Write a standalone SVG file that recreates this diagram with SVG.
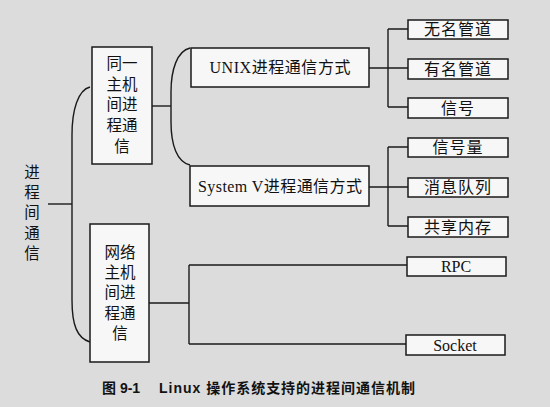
<svg xmlns="http://www.w3.org/2000/svg" width="550" height="407" viewBox="0 0 550 407">
<style>
.box{fill:#f7f7f7;stroke:#1a1a1a;stroke-width:1.5}
.ln{fill:none;stroke:#1a1a1a;stroke-width:1.4}
.t{font-family:"Liberation Serif","Noto Sans CJK SC",serif;font-size:16px;fill:#111;text-anchor:middle}
.v{font-family:"Noto Sans CJK SC",sans-serif;font-size:15.5px;fill:#111;text-anchor:middle}
.cap{font-family:"Liberation Sans","Noto Sans CJK SC",sans-serif;font-size:14px;font-weight:bold;fill:#111}
</style>
<rect width="550" height="407" fill="#dcdcdc"/>
<g id="connectors">
<path class="ln" d="M48 204 H72"/>
<path class="ln" d="M90 87 C78 90 72 110 72 135 L72 300 C72 325 77 338 90 342"/>
<path class="ln" d="M152 106 H171"/>
<path class="ln" d="M190 48 C177 51 171 70 171 92 L171 122 C171 145 177 162 190 165"/>
<path class="ln" d="M369 68 H388 M388 29 V107 M388 29 H408 M388 68 H408 M388 107 H408"/>
<path class="ln" d="M369 187 H388 M388 147 V226 M388 147 H408 M388 187 H408 M388 226 H408"/>
<path class="ln" d="M149 303 H189 M189 265 V344 M189 265 H407 M189 344 H406"/>
</g>
<g id="root"><text class="v" font-size="16"><tspan x="32" y="178">进</tspan><tspan x="32" y="198">程</tspan><tspan x="32" y="218">间</tspan><tspan x="32" y="239">通</tspan><tspan x="32" y="259">信</tspan></text></g>
<g id="same-host"><rect class="box" x="92" y="47" width="60" height="117"/>
<text class="v"><tspan x="122" y="69">同一</tspan><tspan x="122" y="90">主机</tspan><tspan x="122" y="110">间进</tspan><tspan x="122" y="131">程通</tspan><tspan x="122" y="152">信</tspan></text></g>
<g id="network-host"><rect class="box" x="90" y="224" width="59" height="138"/>
<text class="v"><tspan x="120" y="258">网络</tspan><tspan x="120" y="278">主机</tspan><tspan x="120" y="298">间进</tspan><tspan x="120" y="319">程通</tspan><tspan x="120" y="339">信</tspan></text></g>
<g id="unix"><rect class="box" x="191" y="48" width="178" height="39"/><text class="t" x="280" y="73" textLength="141">UNIX进程通信方式</text></g>
<g id="systemv"><rect class="box" x="190" y="166" width="179" height="40"/><text class="t" x="280" y="192" textLength="164">System V进程通信方式</text></g>
<g id="unnamed-pipe"><rect class="box" x="408" y="20" width="100" height="19"/><text class="t" x="458" y="35" letter-spacing="1">无名管道</text></g>
<g id="named-pipe"><rect class="box" x="408" y="59" width="100" height="20"/><text class="t" x="458" y="75" letter-spacing="1">有名管道</text></g>
<g id="signal"><rect class="box" x="408" y="98" width="100" height="20"/><text class="t" x="458" y="114" letter-spacing="1">信号</text></g>
<g id="semaphore"><rect class="box" x="408" y="138" width="100" height="19"/><text class="t" x="458" y="153" letter-spacing="1">信号量</text></g>
<g id="msg-queue"><rect class="box" x="408" y="178" width="100" height="19"/><text class="t" x="458" y="193" letter-spacing="1">消息队列</text></g>
<g id="shm"><rect class="box" x="408" y="217" width="100" height="20"/><text class="t" x="458" y="233" letter-spacing="1">共享内存</text></g>
<g id="rpc"><rect class="box" x="407" y="257" width="99" height="19"/><text class="t" x="456" y="272" font-size="16.5">RPC</text></g>
<g id="socket"><rect class="box" x="406" y="335" width="99" height="20"/><text class="t" x="455" y="351" font-size="16.5">Socket</text></g>
<text class="cap" y="393"><tspan x="102">图 9-1</tspan><tspan x="159" textLength="256">Linux 操作系统支持的进程间通信机制</tspan></text>
</svg>
